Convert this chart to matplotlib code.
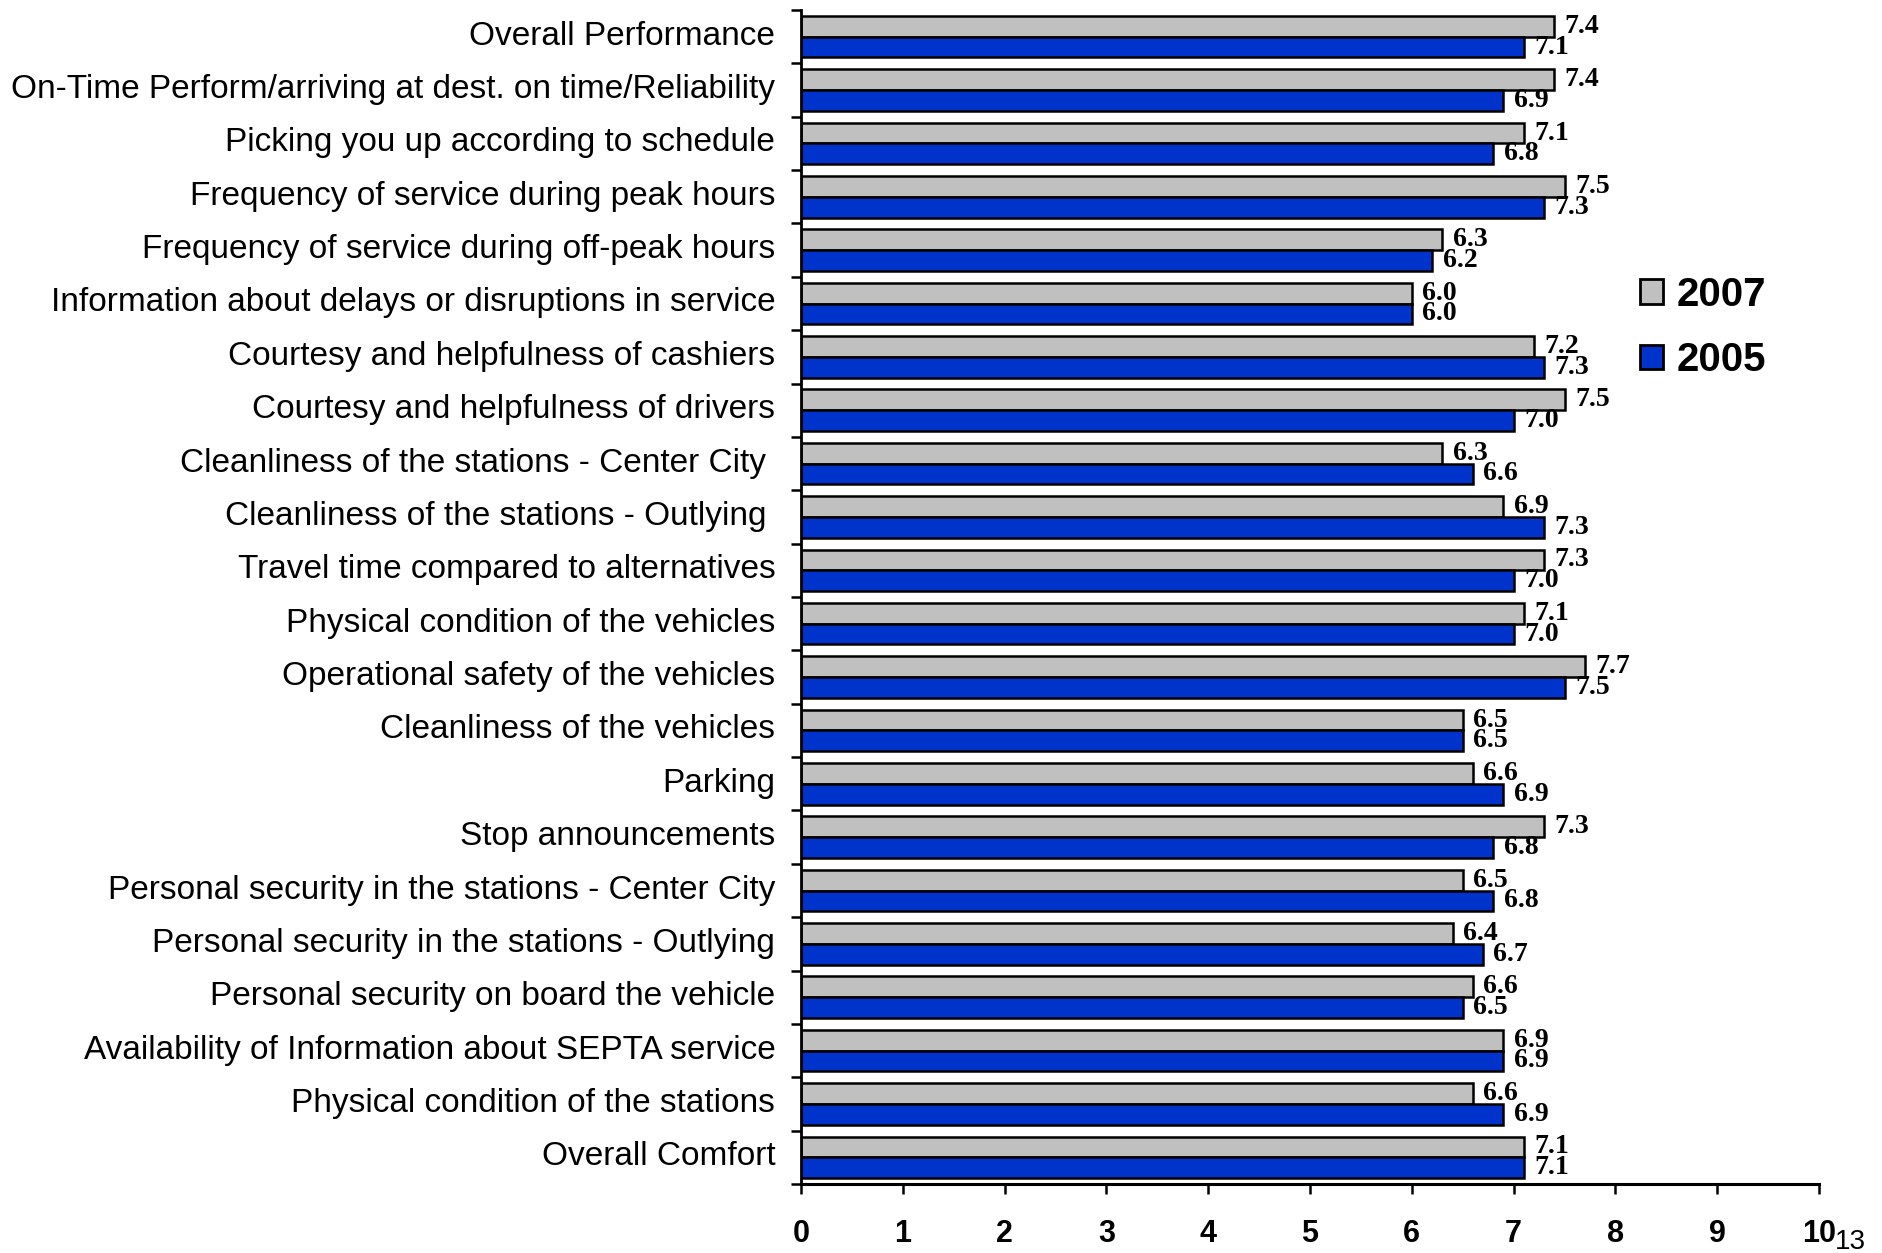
import matplotlib
matplotlib.use("Agg")
import matplotlib.pyplot as plt
import numpy as np
from matplotlib.patches import Patch
from matplotlib.transforms import ScaledTranslation

categories = [
    "Overall Performance",
    "On-Time Perform/arriving at dest. on time/Reliability",
    "Picking you up according to schedule",
    "Frequency of service during peak hours",
    "Frequency of service during off-peak hours",
    "Information about delays or disruptions in service",
    "Courtesy and helpfulness of cashiers",
    "Courtesy and helpfulness of drivers",
    "Cleanliness of the stations - Center City ",
    "Cleanliness of the stations - Outlying ",
    "Travel time compared to alternatives",
    "Physical condition of the vehicles",
    "Operational safety of the vehicles",
    "Cleanliness of the vehicles",
    "Parking",
    "Stop announcements",
    "Personal security in the stations - Center City",
    "Personal security in the stations - Outlying",
    "Personal security on board the vehicle",
    "Availability of Information about SEPTA service",
    "Physical condition of the stations",
    "Overall Comfort",
]
scores_2007 = [7.4, 7.4, 7.1, 7.5, 6.3, 6.0, 7.2, 7.5, 6.3, 6.9, 7.3,
               7.1, 7.7, 6.5, 6.6, 7.3, 6.5, 6.4, 6.6, 6.9, 6.6, 7.1]
scores_2005 = [7.1, 6.9, 6.8, 7.3, 6.2, 6.0, 7.3, 7.0, 6.6, 7.3, 7.0,
               7.0, 7.5, 6.5, 6.9, 6.8, 6.8, 6.7, 6.5, 6.9, 6.9, 7.1]
series_labels = ["2007", "2005"]
x_ticks = list(range(0, 11))

GRAY = "#C0C0C0"
BLUE = "#0033CC"

fig = plt.figure(figsize=(18.83, 12.53), dpi=100)
ax = fig.add_axes([801 / 1883, 1 - 1184 / 1253, (1819 - 801) / 1883, (1184 - 10) / 1253])

y = np.arange(len(categories))
h = 0.39
ax.barh(y - h / 2, scores_2007, height=h, color=GRAY, edgecolor="black", linewidth=1.8)
ax.barh(y + h / 2, scores_2005, height=h, color=BLUE, edgecolor="black", linewidth=1.8)

val_font = dict(family="Liberation Serif", fontweight="bold", fontsize=20)
for yi, v in zip(y, scores_2007):
    ax.annotate(f"{v:.1f}", (v, yi - h / 2), xytext=(7.5, 0), textcoords="offset points",
                ha="left", va="center", **val_font)
for yi, v in zip(y, scores_2005):
    ax.annotate(f"{v:.1f}", (v, yi + h / 2), xytext=(7.5, 0), textcoords="offset points",
                ha="left", va="center", **val_font)

ax.set_xlim(0, 10)
ax.set_ylim(len(categories) - 0.5, -0.5)

# category boundaries carry the tick marks, centres carry the labels
ax.set_yticks(np.arange(len(categories) + 1) - 0.5)
ax.set_yticklabels([])
ax.set_yticks(y, minor=True)
ax.set_yticklabels(categories, minor=True, family="Liberation Sans", fontsize=24)
ax.tick_params(axis="y", which="major", direction="out", length=7, width=1.8)
ax.tick_params(axis="y", which="minor", length=0, pad=18.5)
lift = ScaledTranslation(0, 4 / 100, fig.dpi_scale_trans)
for lab in ax.get_yticklabels(minor=True):
    lab.set_transform(lab.get_transform() + lift)

ax.set_xticks(x_ticks)
ax.set_xticklabels([str(t) for t in x_ticks], family="Liberation Sans",
                   fontweight="bold", fontsize=22)
ax.tick_params(axis="x", direction="out", length=7, width=1.8, pad=18)

for s in ["top", "right"]:
    ax.spines[s].set_visible(False)
ax.spines["left"].set_linewidth(2)
ax.spines["bottom"].set_linewidth(2.2)

handles = [Patch(facecolor=GRAY, edgecolor="black", linewidth=2),
           Patch(facecolor=BLUE, edgecolor="black", linewidth=2)]
fig.legend(handles, series_labels, loc="upper left",
           bbox_to_anchor=(1640 / 1883, 1 - 276 / 1253), frameon=False,
           prop=dict(family="Liberation Sans", weight="bold", size=29),
           handlelength=0.56, handleheight=0.56, handletextpad=0.35,
           labelspacing=0.68, borderpad=0, borderaxespad=0)

fig.text(1835 / 1883, 1 - 1242 / 1253, "13", family="Liberation Sans", fontsize=20,
         ha="left", va="center")

fig.savefig("out.png", dpi=100)
